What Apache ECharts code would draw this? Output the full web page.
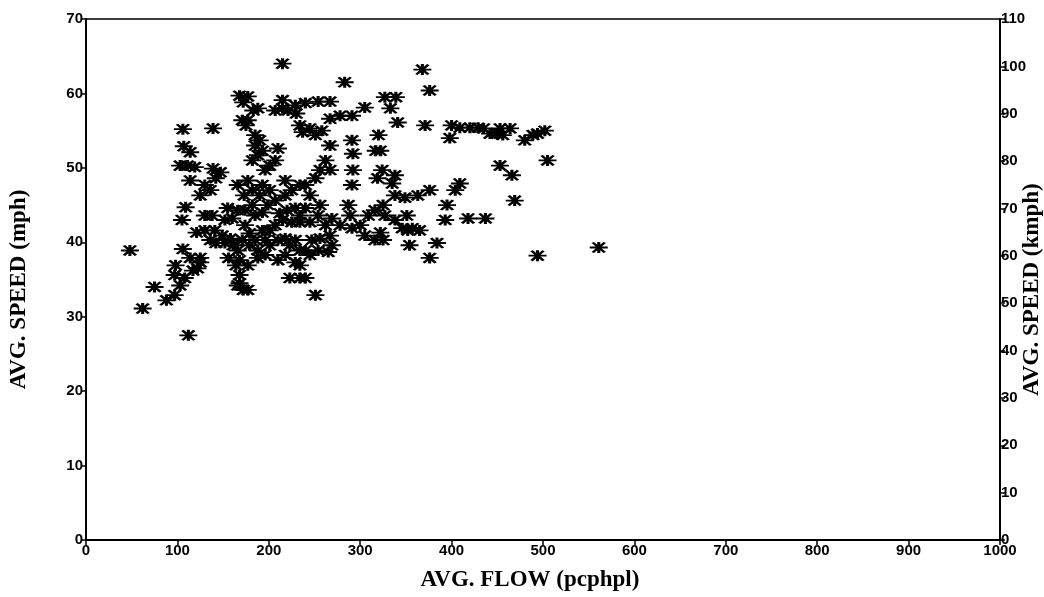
<!DOCTYPE html>
<html>
<head>
<meta charset="utf-8">
<script src="https://cdn.jsdelivr.net/npm/echarts@6/dist/echarts.min.js"></script>
<style>html,body{margin:0;padding:0;background:#fff;}#c{width:1044px;height:597px;}</style>
</head>
<body>
<div id="c"></div>
<script>
const xTicks = [0,100,200,300,400,500,600,700,800,900,1000];
const yLeftTicks = [0,10,20,30,40,50,60,70];
const yRightTicks = [0,10,20,30,40,50,60,70,80,90,100,110];

const flow = [48,98,62,75,88,97,103,112,97,108,117,125,122,114,125,106,136,106,107,114,103,111,119,105,109,114,139,125,130,136,139,147,142,121,130,138,130,141,149,142,152,158,161,166,171,168,164,168,166,172,168,177,171,168,177,172,177,175,183,188,185,185,190,193,188,182,177,166,173,182,193,201,196,201,207,210,215,215,215,207,221,229,240,254,267,230,234,237,245,251,258,267,278,291,305,327,339,283,333,320,322,317,341,368,376,371,400,398,409,420,429,435,442,450,453,464,456,480,489,502,494,453,466,505,469,437,418,395,393,409,404,376,363,349,338,324,319,335,338,325,316,309,327,338,351,346,352,354,376,357,365,384,322,316,325,305,300,289,291,278,269,287,291,292,292,291,267,262,267,256,251,240,245,234,225,218,218,220,212,229,240,256,254,234,234,245,262,225,215,207,201,193,196,185,179,174,185,193,199,207,190,182,174,166,160,155,152,201,210,218,223,229,234,240,218,210,196,188,179,229,234,245,254,265,269,256,247,267,223,234,240,251,188,177,156,561,494];
const speed = [38.9,36.9,31.1,34.0,32.2,32.9,34.2,27.5,35.6,35.2,36.2,37.3,36.5,37.9,37.9,39.1,40.3,55.2,52.9,52.1,50.3,50.3,50.1,43.0,44.7,48.3,55.3,46.3,47.7,47.0,49.9,49.4,48.6,41.3,41.6,43.6,43.6,41.6,40.9,39.9,39.9,40.5,39.6,38.9,40.3,37.6,36.9,35.6,34.2,33.6,34.5,33.6,56.4,59.7,59.6,58.8,56.4,55.7,57.7,58.0,54.4,53.0,53.7,52.3,51.7,51.0,48.3,47.7,46.3,47.0,47.7,47.0,49.7,50.3,51.0,52.6,64.0,59.1,58.0,57.7,57.7,58.4,58.7,58.9,58.9,57.3,55.7,54.8,55.3,54.4,55.0,56.6,57.0,57.0,58.1,59.5,59.5,61.5,58.0,54.4,52.3,52.3,56.1,63.2,60.4,55.7,55.7,54.0,55.4,55.4,55.4,55.3,54.6,54.6,55.3,55.3,54.4,53.7,54.4,55.0,54.6,50.3,49.0,51.0,45.6,43.2,43.2,45.0,43.0,47.9,47.0,47.0,46.3,46.0,49.0,49.7,48.6,47.9,46.3,45.0,44.3,43.6,43.6,43.0,43.6,41.9,41.6,39.6,37.9,41.9,41.6,39.9,41.3,40.3,40.3,40.9,42.3,43.6,41.9,42.3,43.2,45.0,47.7,49.7,51.9,53.7,53.0,51.0,49.7,49.7,48.6,47.7,46.3,47.7,47.0,48.3,46.3,44.3,43.9,44.6,44.6,45.0,43.6,43.6,42.7,42.7,42.3,42.7,43.0,42.3,41.6,41.6,40.3,40.3,41.2,42.3,43.6,44.0,45.0,45.6,46.3,45.0,44.3,44.3,43.2,44.6,43.0,39.6,40.3,40.5,39.6,40.3,38.9,38.9,38.3,37.6,38.3,38.9,39.6,37.3,36.9,38.3,38.9,38.7,39.6,40.5,40.3,40.9,35.2,35.2,35.2,32.9,37.9,36.9,37.9,39.3,38.2];

const points = flow.map((f, i) => [f, speed[i]]);

const chart = echarts.init(document.getElementById('c'), null, {renderer: 'canvas'});
function tickFont(m) { return {margin: m, fontFamily: 'Liberation Sans', fontWeight: 'bold', fontSize: 15, color: '#000', formatter: v => String(v)}; }
function nameFont(pad) { return {fontFamily: 'Liberation Serif', fontWeight: 'bold', fontSize: 23, color: '#000', padding: pad}; }
function axisLine() { return {show: true, onZero: false, lineStyle: {color: '#000', width: 2}}; }
function axisTick() { return {show: true, inside: false, length: 5, lineStyle: {color: '#000', width: 1.5}}; }

chart.setOption({
  animation: false,
  backgroundColor: '#fff',
  grid: {left: 86, right: 44, top: 19, bottom: 57, containLabel: false, outerBoundsMode: 'none',
         show: true, borderColor: '#000', borderWidth: 1.5, backgroundColor: 'transparent'},
  xAxis: {
    type: 'value', min: xTicks[0], max: xTicks[xTicks.length - 1], interval: 100,
    name: 'AVG. FLOW (pcphpl)', nameLocation: 'middle', nameGap: 29, nameTextStyle: nameFont([0, 26, 0, 0]),
    axisLine: axisLine(), axisTick: axisTick(), splitLine: {show: false},
    axisLabel: tickFont(3)
  },
  yAxis: [{
    type: 'value', position: 'left', min: yLeftTicks[0], max: yLeftTicks[yLeftTicks.length - 1], interval: 10,
    name: 'AVG. SPEED (mph)', nameLocation: 'middle', nameGap: 55, nameRotate: 90, nameTextStyle: nameFont([0, 20, 0, 0]),
    axisLine: axisLine(), axisTick: axisTick(), splitLine: {show: false},
    axisLabel: tickFont(3)
  }, {
    type: 'value', position: 'right', min: yRightTicks[0], max: yRightTicks[yRightTicks.length - 1], interval: 10,
    name: 'AVG. SPEED (kmph)', nameLocation: 'middle', nameGap: 21, nameRotate: 90, nameMoveOverlap: false,
    nameTextStyle: nameFont([0, 20, 0, 0]),
    axisLine: axisLine(), axisTick: axisTick(), splitLine: {show: false},
    axisLabel: tickFont(1)
  }],
  series: [{
    type: 'scatter',
    xAxisIndex: 0, yAxisIndex: 0,
    data: points,
    symbol: 'path://M0,5 L18,5 M3,0.5 L15,9.5 M3,9.5 L15,0.5 M9,0 L9,10',
    symbolSize: [18, 11],
    itemStyle: {color: '#000', borderColor: '#000', borderWidth: 2.4, opacity: 1}
  }]
});
</script>
</body>
</html>
